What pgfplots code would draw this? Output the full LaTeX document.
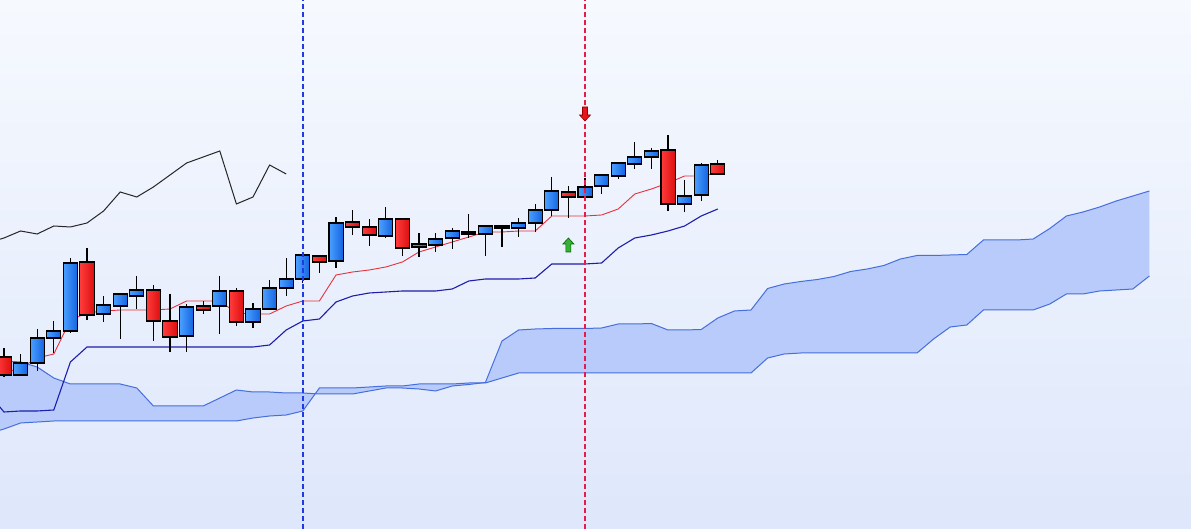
\documentclass[border=0pt]{standalone}
\usepackage{pgfplots}
\usepackage{pgfplotstable}
\pgfplotsset{compat=1.18}
\usepgfplotslibrary{statistics,fillbetween}

\definecolor{bgTop}{RGB}{246,249,254}
\definecolor{bgBot}{RGB}{222,231,251}
\definecolor{upL}{RGB}{75,160,255}
\definecolor{upR}{RGB}{20,100,225}
\definecolor{dnL}{RGB}{255,60,60}
\definecolor{dnR}{RGB}{220,15,15}
\definecolor{tenkan}{RGB}{230,50,60}
\definecolor{kijun}{RGB}{30,30,170}
\definecolor{cloudEdge}{RGB}{70,110,220}
\definecolor{cloudFill}{RGB}{184,203,250}
\definecolor{sigBlue}{RGB}{30,60,225}
\definecolor{sigRed}{RGB}{225,30,75}
\definecolor{arrRed}{RGB}{232,20,30}
\definecolor{arrGreen}{RGB}{56,176,56}

% sell / buy signal marks (1pt = 1px)
\pgfdeclareplotmark{sellarrow}{%
  \pgfpathmoveto{\pgfqpoint{-2.5pt}{7pt}}%
  \pgfpathlineto{\pgfqpoint{2.5pt}{7pt}}%
  \pgfpathlineto{\pgfqpoint{2.5pt}{-1pt}}%
  \pgfpathlineto{\pgfqpoint{5.5pt}{-1pt}}%
  \pgfpathlineto{\pgfqpoint{0pt}{-7pt}}%
  \pgfpathlineto{\pgfqpoint{-5.5pt}{-1pt}}%
  \pgfpathlineto{\pgfqpoint{-2.5pt}{-1pt}}%
  \pgfpathclose
  \pgfusepathqfillstroke}
\pgfdeclareplotmark{buyarrow}{%
  \pgfpathmoveto{\pgfqpoint{-2.5pt}{-7pt}}%
  \pgfpathlineto{\pgfqpoint{2.5pt}{-7pt}}%
  \pgfpathlineto{\pgfqpoint{2.5pt}{1pt}}%
  \pgfpathlineto{\pgfqpoint{5.5pt}{1pt}}%
  \pgfpathlineto{\pgfqpoint{0pt}{7pt}}%
  \pgfpathlineto{\pgfqpoint{-5.5pt}{1pt}}%
  \pgfpathlineto{\pgfqpoint{-2.5pt}{1pt}}%
  \pgfpathclose
  \pgfusepathqfillstroke}

\pgfplotsset{
  up/.style={boxplot/every box/.style={draw=black,line width=1.1pt,left color=upL,right color=upR}},
  dn/.style={boxplot/every box/.style={draw=black,line width=1.1pt,left color=dnL,right color=dnR}},
  doji/.style={boxplot/every box/.style={draw=black,line width=1.1pt,fill=black}},
}
% style, position, low, body bottom, body top, high
\newcommand{\candle}[6]{%
  \addplot[black,#1,boxplot prepared={draw direction=y,draw position=#2,lower whisker=#3,
    lower quartile=#4,median=#4,upper quartile=#5,upper whisker=#6}] coordinates {};}

% tenkan / kijun
\pgfplotstableread{
i T K
-1 153 137
0 156 117
1 161 118
2 171 118
3 175 119
4 209 167
5 216 182
6 218 182
7 219 182
8 219 182
9 219 182
10 220 182
11 228 182
12 228 182
13 228 182
14 216 182
15 215 182
16 215 184
17 223 199
18 228 208
19 228 210
20 254 227
21 257 233
22 259 236
23 262 237
24 267 238
25 277 238
26 282 238
27 287 240
28 292 248
29 297 250
30 297 250
31 298 250
32 298 251
33 313 265
34 313 265
35 313 265
36 314 266
37 320 281
38 335 291
39 340 294
40 346 298
41 353 303
42 353 313
43 356 320
}\tk

% chikou span
\pgfplotstableread{
i C
-1 286
0 291
1 298
2 295
3 303
4 302
5 306
6 318
7 337
8 332
9 342
10 354
11 366
12 372
13 378
14 325
15 332
16 364
17 355
}\chikou

% senkou span A / B
\pgfplotstableread{
i A B
-1 168 95
0 168 100
1 167 106
2 162 107
3 151 108
4 145 108
5 145 108
6 145 108
7 145 108
8 141 108
9 123 108
10 123 108
11 123 108
12 123 108
13 131 108
14 139 108
15 137 111
16 137 113
17 136 114
18 136 118
19 135 141
20 135 141
21 135 141
22 138 142
23 141 143
24 141 143
25 140 145
26 138 145
27 143 145
28 144.5 146
29 146.5 146
30 188 151
31 199 156
32 200 156
33 200.5 156
34 200.5 156
35 200.5 156
36 201 156
37 205 156
38 205 156
39 205.5 156
40 199 156
41 199 156
42 199.5 156
43 211 156
44 218 156
45 219 156
46 240.5 171
47 245 175
48 247.5 176
49 249.5 176
50 252.5 176
51 257.5 176
52 260 176
53 263.5 176
54 270 176
55 273.5 176
56 273.5 190
57 274 202
58 274.5 204
59 289 219
60 289 219
61 289 219
62 290 219
63 300.5 225
64 313 235
65 317 235
66 322 238
67 328 239
68 333 240
69 338 253
}\spans

\begin{document}
\begin{tikzpicture}
\begin{axis}[
  scale only axis,
  width=1191pt, height=529pt,
  xmin=-0.241, xmax=71.506,
  ymin=0, ymax=529,
  axis line style={draw=none},
  ticks=none,
  axis background/.style={top color=bgTop,bottom color=bgBot},
  boxplot/draw direction=y,
  boxplot/box extend=0.85,
  boxplot/whisker extend=0,
  boxplot/every whisker/.style={black,line width=1.1pt},
  boxplot/every median/.style={draw=none},
]
% cloud
\addplot[draw=none,name path=spanA] table[x=i,y=A] {\spans};
\addplot[draw=none,name path=spanB] table[x=i,y=B] {\spans};
\addplot[cloudFill] fill between[of=spanA and spanB];
\addplot[cloudEdge,line width=1pt] table[x=i,y=A] {\spans};
\addplot[cloudEdge,line width=1pt] table[x=i,y=B] {\spans};

% chikou, kijun, tenkan
\addplot[black!85,line width=1pt] table[x=i,y=C] {\chikou};
\addplot[kijun,line width=1.1pt] table[x=i,y=K] {\tk};
\addplot[tenkan,line width=0.9pt] table[x=i,y=T] {\tk};

% candles
\candle{dn}{0}{152}{154}{172}{181}
\candle{up}{1}{153}{154}{166}{175}
\candle{up}{2}{158}{166}{191}{200}
\candle{up}{3}{176}{191}{198}{208}
\candle{up}{4}{196}{198}{266}{271}
\candle{dn}{5}{209}{214}{267}{281}
\candle{up}{6}{207}{215}{224}{233}
\candle{up}{7}{190}{223}{235}{235}
\candle{up}{8}{220}{233}{239}{253}
\candle{dn}{9}{188}{208}{239}{244}
\candle{dn}{10}{177}{192}{208}{235}
\candle{up}{11}{177}{193}{222}{225}
\candle{dn}{12}{215}{219}{223}{228}
\candle{up}{13}{195}{223}{238}{253}
\candle{dn}{14}{203}{207}{238}{241}
\candle{up}{15}{201}{207}{220}{226}
\candle{up}{16}{220}{220}{241}{249}
\candle{up}{17}{233}{241}{250}{271}
\candle{up}{18}{246}{250}{274}{277}
\candle{dn}{19}{256}{267}{273}{274}
\candle{up}{20}{261}{268}{306}{312}
\candle{dn}{21}{294}{302}{307}{319}
\candle{dn}{22}{283}{294}{302}{310}
\candle{up}{23}{291}{293}{310}{322}
\candle{dn}{24}{273}{281}{310}{311}
\candle{up}{25}{272}{282}{285}{296}
\candle{up}{26}{277}{284}{290}{296}
\candle{up}{27}{280}{291}{298}{301}
\candle{dn}{28}{291}{295}{297}{315}
\candle{up}{29}{273}{295}{303}{304}
\candle{doji}{30}{282}{301}{303}{303}
\candle{up}{31}{292}{301}{306}{311}
\candle{up}{32}{297}{306}{319}{325}
\candle{up}{33}{313}{319}{338}{352}
\candle{dn}{34}{311}{332}{337}{343}
\candle{up}{35}{328}{332}{342}{351}
\candle{up}{36}{335}{343}{354}{354}
\candle{up}{37}{350}{353}{366}{367}
\candle{up}{38}{360}{365}{372}{387}
\candle{up}{39}{360}{372}{378}{381}
\candle{dn}{40}{318}{325}{379}{394}
\candle{up}{41}{317}{325}{333}{349}
\candle{up}{42}{328}{334}{364}{366}
\candle{dn}{43}{355}{355}{365}{369}

% signal lines
\addplot[sigBlue,line width=2pt,dash pattern=on 5pt off 3pt] coordinates {(18,0) (18,529)};
\addplot[sigRed,line width=2pt,dash pattern=on 5pt off 3pt] coordinates {(35,0) (35,529)};

% signal arrows
\addplot[only marks,mark=sellarrow,mark options={fill=arrRed,draw=red!60!black,line width=0.6pt}] coordinates {(35,415)};
\addplot[only marks,mark=buyarrow,mark options={fill=arrGreen,draw=green!40!black,line width=0.6pt}] coordinates {(34,284)};
\end{axis}
\end{tikzpicture}
\end{document}
